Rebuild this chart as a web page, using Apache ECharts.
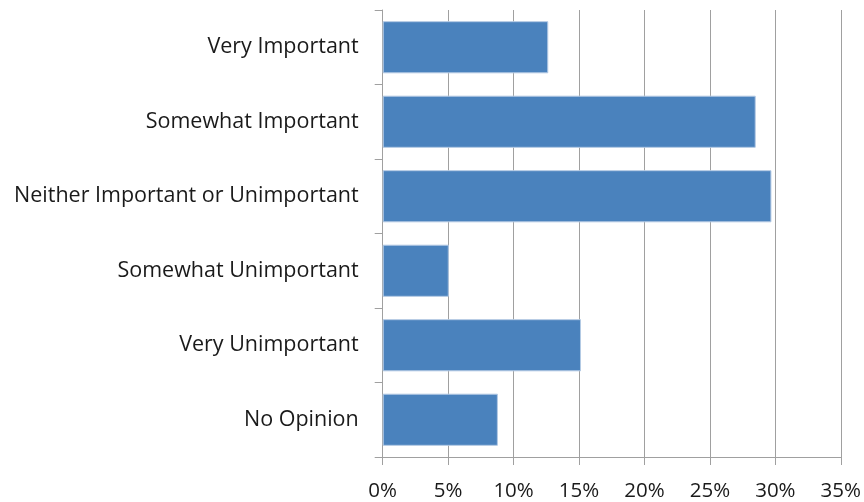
<!DOCTYPE html>
<html><head><meta charset="utf-8">
<script src="https://cdn.jsdelivr.net/npm/echarts@6/dist/echarts.min.js"></script>
<style>html,body{margin:0;padding:0;background:#fff}#c{width:864px;height:502px}</style>
</head><body><div id="c"></div>
<script>
const categories = ["Very Important","Somewhat Important","Neither Important or Unimportant","Somewhat Unimportant","Very Unimportant","No Opinion"];
const values = [12.65, 28.5, 29.7, 5.05, 15.15, 8.8];
const xTicks = [0,5,10,15,20,25,30,35];
const chart = echarts.init(document.getElementById('c'));
const axisColor = '#a0a0a0';
chart.setOption({
  animation:false,
  grid:{left:382.7,right:22.7,top:10,bottom:44,containLabel:false},
  xAxis:{type:'value',min:xTicks[0],max:xTicks[xTicks.length-1],interval:5,
    axisLine:{show:true,lineStyle:{color:axisColor,width:1}},
    axisTick:{show:true,length:8,lineStyle:{color:axisColor}},
    splitLine:{show:true,lineStyle:{color:axisColor,width:1}},
    axisLabel:{formatter:v=>v+'%',fontFamily:'Open Sans',fontSize:20.5,color:'#1a1a1a',margin:24}},
  yAxis:{type:'category',data:categories,inverse:true,
    axisLine:{show:true,lineStyle:{color:axisColor,width:1}},
    axisTick:{show:true,length:8,alignWithLabel:false,lineStyle:{color:axisColor}},
    axisLabel:{fontFamily:'Open Sans',fontSize:21.5,color:'#1a1a1a',margin:24}},
  series:[{type:'bar',data:values,barCategoryGap:'30%',
    itemStyle:{color:'#4a82bd',borderColor:'#b4cae4',borderWidth:1}}]
});
</script></body></html>
